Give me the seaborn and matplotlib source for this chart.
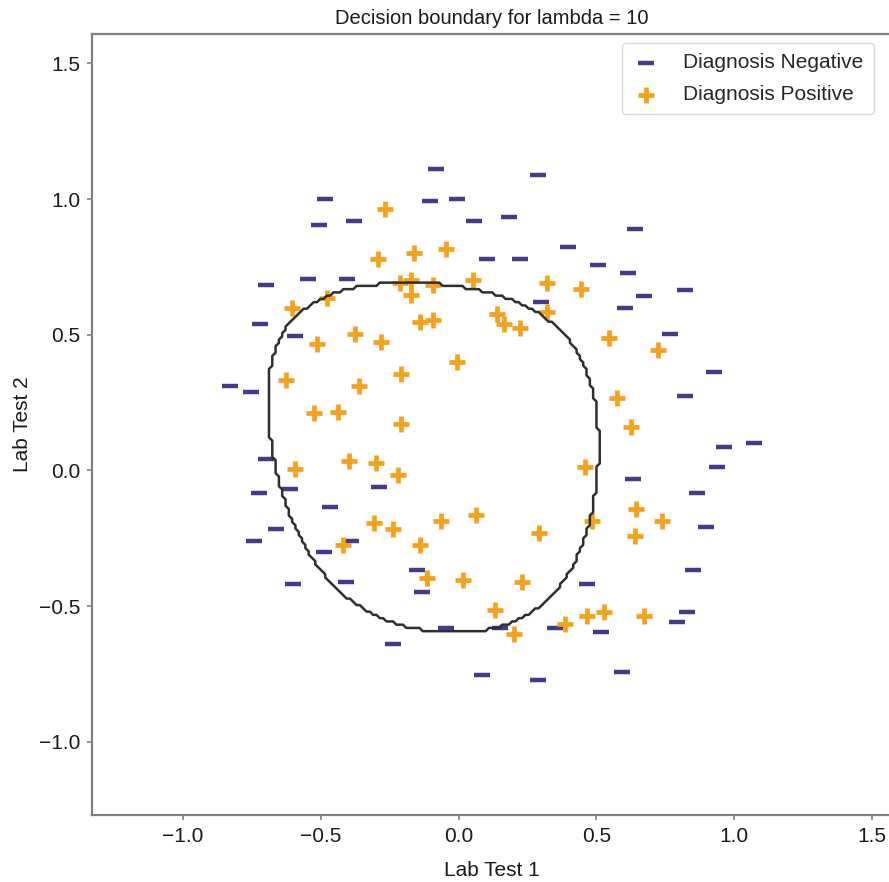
import numpy as np
import pandas as pd
import matplotlib
matplotlib.use("Agg")
import matplotlib.pyplot as plt
import seaborn as sns

# ---------------- data ----------------
pos_x = [0.051, -0.093, -0.214, -0.375, -0.513, -0.525, -0.398, -0.306, 0.017, 0.132,
         0.385, 0.529, 0.639, 0.737, 0.547, 0.322, 0.166, -0.047, -0.173, -0.479,
         -0.605, -0.628, -0.594, -0.421, -0.116, 0.201, 0.466, 0.673, -0.139, -0.294,
         -0.266, -0.162, -0.173, -0.283, -0.363, -0.300, -0.237, -0.064, 0.063, 0.230,
         0.293, 0.483, 0.645, 0.460, 0.627, 0.575, 0.725, 0.224, 0.443, 0.322,
         0.138, -0.006, -0.093, -0.208, -0.208, -0.438, -0.219, -0.139]
pos_y = [0.700, 0.685, 0.692, 0.502, 0.466, 0.210, 0.034, -0.192, -0.404, -0.514,
         -0.565, -0.521, -0.243, -0.185, 0.488, 0.583, 0.539, 0.817, 0.700, 0.634,
         0.597, 0.334, 0.005, -0.273, -0.397, -0.602, -0.536, -0.536, 0.546, 0.780,
         0.963, 0.802, 0.648, 0.473, 0.312, 0.027, -0.214, -0.185, -0.163, -0.412,
         -0.229, -0.185, -0.141, 0.012, 0.159, 0.268, 0.444, 0.524, 0.670, 0.692,
         0.575, 0.400, 0.553, 0.356, 0.173, 0.217, -0.017, -0.273]
neg_x = [0.184, 0.224, 0.299, 0.506, 0.616, 0.604, 0.766, 0.927, 0.823, 0.961,
         0.938, 0.863, 0.898, 0.852, 0.829, 0.794, 0.593, 0.518, 0.466, 0.351,
         0.287, 0.086, 0.149, -0.133, -0.410, -0.392, -0.744, -0.698, -0.755, -0.698,
         -0.404, -0.381, -0.507, -0.548, 0.103, 0.057, -0.104, -0.081, 0.287, 0.397,
         0.639, 0.823, 0.673, 1.071, -0.047, -0.237, -0.150, -0.490, -0.467, -0.289,
         -0.611, -0.663, -0.600, -0.726, -0.830, -0.721, -0.594, -0.484, -0.006, 0.633]
neg_y = [0.933, 0.780, 0.619, 0.758, 0.729, 0.597, 0.502, 0.363, 0.276, 0.086,
         0.012, -0.083, -0.207, -0.368, -0.521, -0.558, -0.741, -0.594, -0.419, -0.580,
         -0.770, -0.755, -0.580, -0.448, -0.412, -0.258, -0.258, 0.042, 0.290, 0.685,
         0.707, 0.919, 0.904, 0.707, 0.780, 0.919, 0.992, 1.109, 1.087, 0.824,
         0.890, 0.663, 0.641, 0.100, -0.580, -0.638, -0.368, -0.302, -0.134, -0.061,
         -0.068, -0.214, -0.419, -0.083, 0.312, 0.539, 0.495, 0.999, 0.999, -0.031]
labels = ["Diagnosis Negative", "Diagnosis Positive"]
lam = 10
title = f"Decision boundary for lambda = {lam}"
tick_vals = [-1.0, -0.5, 0.0, 0.5, 1.0, 1.5]

# ---------------- regularised logistic regression, degree-6 polynomial features ----------------
# cost = mean log-loss + (lam / m) * sum(theta**2)   (all weights penalised)
def map_feature(x1, x2, degree=6):
    x1 = np.asarray(x1, float).ravel(); x2 = np.asarray(x2, float).ravel()
    cols = [np.ones_like(x1)]
    for i in range(1, degree + 1):
        for j in range(i + 1):
            cols.append(x1 ** (i - j) * x2 ** j)
    return np.column_stack(cols)

X1 = np.r_[pos_x, neg_x]; X2 = np.r_[pos_y, neg_y]
yv = np.r_[np.ones(len(pos_x)), np.zeros(len(neg_x))]
F = map_feature(X1, X2)
m, n = F.shape
theta = np.zeros(n)
for _ in range(80):
    h = 1 / (1 + np.exp(-F @ theta))
    g = F.T @ (h - yv) / m + 2 * lam / m * theta
    H = (F.T * (h * (1 - h))) @ F / m + 2 * lam / m * np.eye(n)
    theta -= np.linalg.solve(H, g)

x_min, x_max = X1.min() - 0.5, X1.max() + 0.5
y_min, y_max = X2.min() - 0.5, X2.max() + 0.5
step = 0.012
gx, gy = np.meshgrid(np.arange(x_min, x_max, step), np.arange(y_min, y_max, step))
Z = (map_feature(gx, gy) @ theta >= 0).astype(float).reshape(gx.shape)

# ---------------- plotting ----------------
sns.set_style("white")
plt.rcParams["font.family"] = ["Liberation Sans", "DejaVu Sans"]
fig = plt.figure(figsize=(8.89, 8.82), dpi=100)
ax = fig.add_axes([0.1035, 0.0757, 0.8995, 0.8861])

ax.contour(gx, gy, Z, levels=[0.5], colors="#2e2e2e", linewidths=1.8)

neg_df = pd.DataFrame({"x": neg_x, "y": neg_y})
pos_df = pd.DataFrame({"x": pos_x, "y": pos_y})
sns.scatterplot(data=neg_df, x="x", y="y", marker="_", color="#413b8a", s=140,
                linewidth=3.2, label=labels[0], ax=ax)
sns.scatterplot(data=pos_df, x="x", y="y", marker="+", color="#f5a11c", s=125,
                linewidth=3.4, label=labels[1], ax=ax)

ax.set_xlim(x_min, x_max)
ax.set_ylim(y_min, y_max)
ax.set_xticks(tick_vals)
ax.set_yticks(tick_vals)
ax.set_title(title, fontsize=14.5, color="#1a1a1a", pad=7)
ax.set_xlabel("Lab Test 1", fontsize=15, color="#1a1a1a", labelpad=11)
ax.set_ylabel("Lab Test 2", fontsize=15, color="#1a1a1a", labelpad=5)
ax.tick_params(axis="both", labelsize=15, labelcolor="#1a1a1a", color="#808080",
               length=3.5, width=1.2, direction="out", pad=5, bottom=True, left=True)
for sp in ax.spines.values():
    sp.set_color("#7f7f7f")
    sp.set_linewidth(1.6)

leg = ax.legend(loc="upper right", fontsize=15, frameon=True, borderpad=0.5,
                handlelength=1.3, handletextpad=1.15, labelspacing=0.6,
                borderaxespad=0, bbox_to_anchor=(0.978, 0.988))
leg.get_frame().set_edgecolor("#d0d0d0")

fig.savefig("out.png", dpi=100)
